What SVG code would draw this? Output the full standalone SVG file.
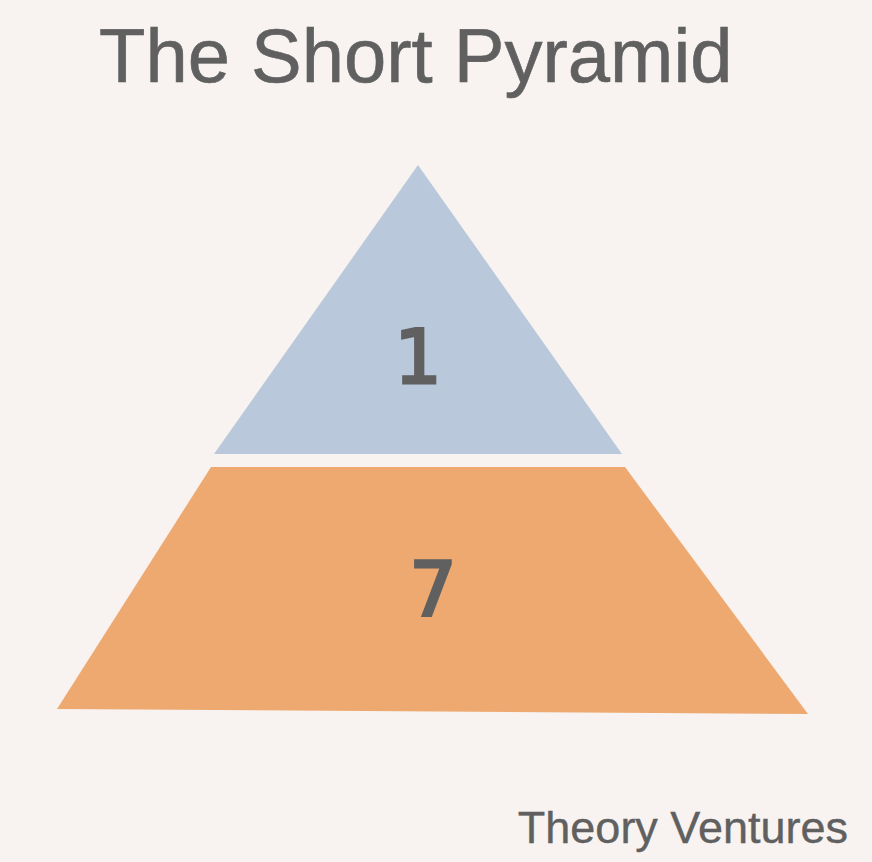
<svg xmlns="http://www.w3.org/2000/svg" width="872" height="862" viewBox="0 0 872 862">
<style>
.t{font-family:"Liberation Sans",Arial,Helvetica,sans-serif;fill:#606060}
.num{font-family:"DejaVu Sans",sans-serif;font-size:74px;text-anchor:middle;stroke:#606060;stroke-width:3}
</style>
<rect width="872" height="862" fill="#f8f3f1"/>
<text class="t" x="99" y="82" font-size="76" stroke="#606060" stroke-width="0.6">The Short Pyramid</text>
<g id="top">
<polygon points="418,165 622,454 214,454" fill="#b9c8db"/>
<text class="t num" x="418" y="383">1</text>
</g>
<g id="bottom">
<polygon points="211,467 625,467 808,714 57,709" fill="#eda970"/>
<text class="t num" x="433" y="615">7</text>
</g>
<text class="t" x="848" y="843" font-size="45" text-anchor="end" stroke="#606060" stroke-width="0.4">Theory Ventures</text>
</svg>
